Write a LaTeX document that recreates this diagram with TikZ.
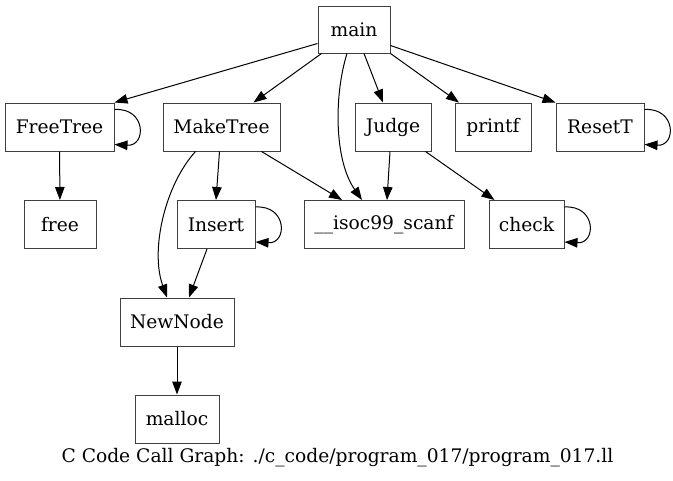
\documentclass[tikz,border=0pt]{standalone}
\usepackage{fontspec}
\setmainfont{DejaVu Serif}
\usepackage{tikz}
\usetikzlibrary{arrows.meta}

\begin{document}
\begin{tikzpicture}[x=1pt, y=-1pt,
    fn/.style={shape=rectangle, draw=black!75, line width=1pt, minimum height=48pt, inner sep=0pt, font=\fontsize{18.67}{22}\selectfont},
    edge/.style={draw=black, line width=1pt, -{Triangle[length=13pt, width=9.5pt]}}]
        \useasboundingbox (0, 0) rectangle (673, 480);

        \node[fn, minimum width=72pt, minimum height=47pt] (main) at (354, 29.5) {main};
        \node[fn, minimum width=109pt] (FreeTree) at (59.5, 127) {FreeTree};
        \node[fn, minimum width=117pt] (MakeTree) at (221.5, 127) {MakeTree};
        \node[fn, minimum width=76pt] (Judge) at (393, 127) {Judge};
        \node[fn, minimum width=76pt] (printf) at (493, 127) {printf};
        \node[fn, minimum width=88pt] (ResetT) at (600, 127) {ResetT};
        \node[fn, minimum width=72pt] (free) at (60, 224.5) {free};
        \node[fn, minimum width=78pt] (Insert) at (216, 224.5) {Insert};
        \node[fn, minimum width=160pt] (scanf) at (384, 224.5) {\_\_isoc99\_scanf};
        \node[fn, minimum width=75pt] (check) at (526.5, 224.5) {check};
        \node[fn, minimum width=114pt] (NewNode) at (177, 322) {NewNode};
        \node[fn, minimum width=84pt] (malloc) at (177, 419) {malloc};

        \node[font=\fontsize{18.67}{22}\selectfont, inner sep=0pt] (caption) at (337.5, 458) {C Code Call Graph: ./c\_code/program\_017/program\_017.ll};

        % calls from main
        \draw[edge] ([yshift=-14pt]main.west) -- (FreeTree.north east);
        \draw[edge] ([xshift=4pt]main.south west) -- ([xshift=32pt]MakeTree.north);
        \draw[edge] ([xshift=-7pt]main.south) .. controls (334, 95) and (334, 160) .. ([xshift=-22pt]scanf.north);
        \draw[edge] ([xshift=10pt]main.south) -- ([xshift=-10pt]Judge.north);
        \draw[edge] (main.south east) -- ([xshift=-34pt]printf.north);
        \draw[edge] ([yshift=8pt]main.south east) -- (ResetT.north west);

        % calls from the second row
        \draw[edge] ([yshift=-7pt]FreeTree.north east) .. controls +(32, -2) and +(32, 2) .. ([yshift=7pt]FreeTree.south east);
        \draw[edge] (FreeTree) -- (free);
        \draw[edge] ([xshift=-26pt]MakeTree.south) .. controls (165, 185) and (150, 250) .. ([xshift=-10pt]NewNode.north);
        \draw[edge] ([xshift=-2pt]MakeTree.south) -- (Insert.north);
        \draw[edge] ([xshift=40pt]MakeTree.south) -- ([xshift=-42pt]scanf.north);
        \draw[edge] ([xshift=-3pt]Judge.south) -- ([xshift=3pt]scanf.north);
        \draw[edge] ([xshift=-6pt]Judge.south east) -- ([xshift=6pt]check.north west);
        \draw[edge] ([yshift=-7pt]ResetT.north east) .. controls +(32, -2) and +(32, 2) .. ([yshift=7pt]ResetT.south east);

        % calls from the lower rows
        \draw[edge] ([yshift=-7pt]Insert.north east) .. controls +(32, -2) and +(32, 2) .. ([yshift=7pt]Insert.south east);
        \draw[edge] ([xshift=-9pt]Insert.south) -- ([xshift=12pt]NewNode.north);
        \draw[edge] ([yshift=-7pt]check.north east) .. controls +(32, -2) and +(32, 2) .. ([yshift=7pt]check.south east);
        \draw[edge] (NewNode) -- (malloc);

    \end{tikzpicture}
\end{document}
